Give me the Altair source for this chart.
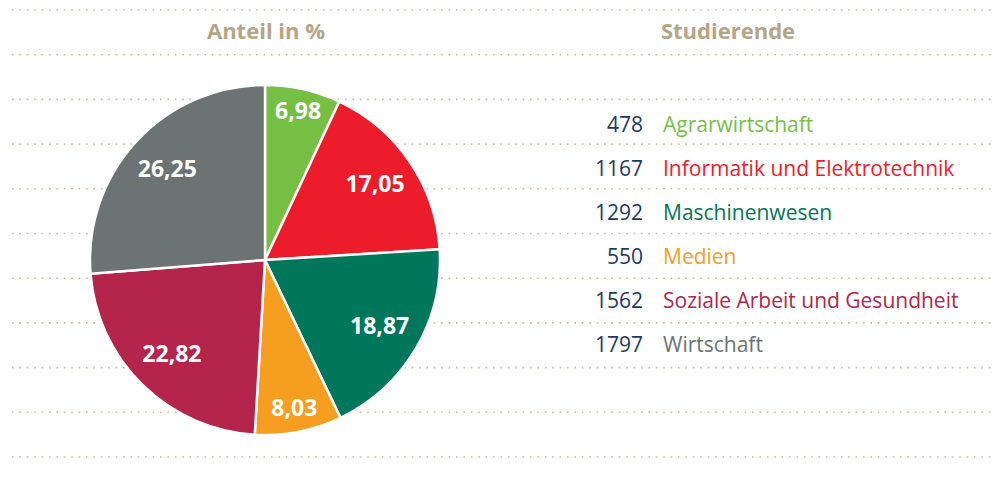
import altair as alt
import pandas as pd

# ---- data ----
kategorien = ["Agrarwirtschaft", "Informatik und Elektrotechnik", "Maschinenwesen",
              "Medien", "Soziale Arbeit und Gesundheit", "Wirtschaft"]
anteil = [6.98, 17.05, 18.87, 8.03, 22.82, 26.25]
studierende = [478, 1167, 1292, 550, 1562, 1797]
farben = ["#76bf45", "#ed1c2b", "#00775a", "#f59e1f", "#b5254b", "#6b7373"]
titel = ["Anteil in %", "Studierende"]
linien = list(range(11))

FONT = "Open Sans"
TAN = "#b5a586"
NAVY = "#1b3a62"

df = pd.DataFrame({
    "kategorie": kategorien,
    "anteil": anteil,
    "studierende": studierende,
    "label": [f"{v:.2f}".replace(".", ",") for v in anteil],
    "ord": list(range(len(kategorien))),
})

color = alt.Color("kategorie:N", scale=alt.Scale(domain=kategorien, range=farben), legend=None)
theta_scale = alt.Scale(domain=[0, 100], range=[0, 6.283185307179586])

CX, CY = 257, 252

rules = alt.Chart(pd.DataFrame({"i": linien})).mark_rule(
    color="#c9b99b", strokeWidth=1.6, strokeDash=[1.6, 5.8]
).encode(
    y=alt.Y("i:Q", scale=alt.Scale(domain=[0, 10], range=[2, 449]), axis=None),
    x=alt.value(4), x2=alt.value(990),
)

pie = alt.Chart(df).mark_arc(outerRadius=175, stroke="white", strokeWidth=2.5).encode(
    theta=alt.Theta("anteil:Q", stack=True, scale=theta_scale),
    color=color,
    order=alt.Order("ord:Q"),
    x=alt.value(CX), y=alt.value(CY),
)

pie_labels = alt.Chart(df).transform_window(
    cum="sum(anteil)", sort=[alt.SortField("ord")], frame=[None, 0]
).transform_calculate(
    mid="datum.cum - datum.anteil / 2",
    lr="datum.anteil < 10 ? 152 : 133",
).mark_text(font=FONT, fontSize=23, fontWeight="bold", color="white",
            align="center", baseline="middle").encode(
    theta=alt.Theta("mid:Q", stack=False, scale=theta_scale),
    radius=alt.Radius("lr:Q", scale=None),
    text="label:N",
    x=alt.value(CX), y=alt.value(CY),
)

yrow = alt.Y("kategorie:N", sort=kategorien,
             scale=alt.Scale(type="point", range=[118, 338], padding=0), axis=None)

nums = alt.Chart(df).mark_text(font=FONT, fontSize=21, color=NAVY, align="right",
                               baseline="middle").encode(
    y=yrow, x=alt.value(635), text="studierende:Q",
)

labs = alt.Chart(df).mark_text(font=FONT, fontSize=21, align="left",
                               baseline="middle").encode(
    y=yrow, x=alt.value(655), text="kategorie:N", color=color,
)

t1 = alt.Chart(pd.DataFrame({"t": [titel[0]]})).mark_text(
    font=FONT, fontSize=22, fontWeight="bold", color=TAN, align="center", baseline="middle"
).encode(text="t:N", x=alt.value(258), y=alt.value(24))

t2 = alt.Chart(pd.DataFrame({"t": [titel[1]]})).mark_text(
    font=FONT, fontSize=22, fontWeight="bold", color=TAN, align="center", baseline="middle"
).encode(text="t:N", x=alt.value(720), y=alt.value(24))

chart = alt.layer(rules, pie, pie_labels, nums, labs, t1, t2).resolve_scale(
    y="independent"
).properties(
    width=988, height=484, padding=0,
    autosize=alt.AutoSizeParams(type="fit", contains="padding"),
).configure_view(stroke=None)

chart.save("out.html", embed_options={"renderer": "svg", "actions": False})
